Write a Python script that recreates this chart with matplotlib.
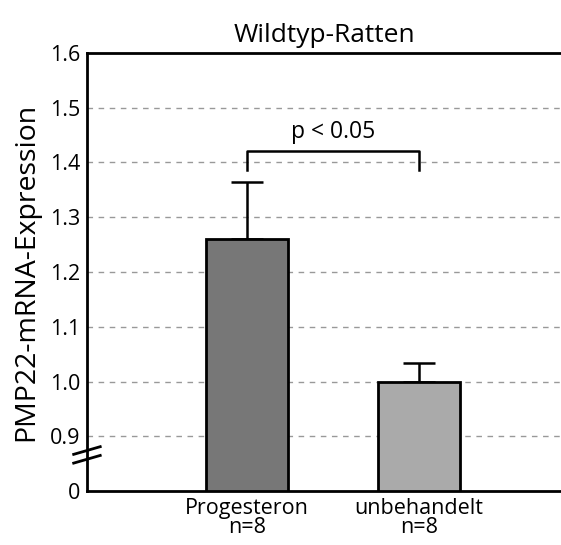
import matplotlib.pyplot as plt

plt.rcParams['font.family'] = ['Open Sans', 'DejaVu Sans']

# data
groups = ['Progesteron\nn=8', 'unbehandelt\nn=8']
means = [1.26, 1.00]
errors = [0.105, 0.033]
bar_colors = ['#777777', '#aaaaaa']
tick_vals = [0.8, 0.9, 1.0, 1.1, 1.2, 1.3, 1.4, 1.5, 1.6]
tick_labels = ['0', '0.9', '1.0', '1.1', '1.2', '1.3', '1.4', '1.5', '1.6']
axis_base = 0.8  # shown as "0" (broken axis)

fig = plt.figure(figsize=(5.61, 5.45), dpi=100)
ax = fig.add_axes([0.155, 0.099, 0.845, 0.804])

x = list(range(len(groups)))
ax.bar(x, [m - axis_base for m in means], bottom=axis_base, width=0.477,
       color=bar_colors, edgecolor='black', linewidth=2, zorder=3)
ax.errorbar(x, means, yerr=[[0] * len(errors), errors], fmt='none',
            ecolor='black', elinewidth=1.8, capsize=11.5, capthick=1.8, zorder=2)

ax.set_xlim(-0.93, 1.826)
ax.set_ylim(0.8, 1.6)
ax.set_yticks(tick_vals)
ax.set_yticklabels(tick_labels, fontsize=15.5)
ax.set_xticks(x)
ax.set_xticklabels(groups, fontsize=15.5, linespacing=0.85)
ax.tick_params(axis='y', length=0, pad=5)
ax.tick_params(axis='x', length=0, pad=5)

for v in tick_vals[1:-1]:
    ax.axhline(v, color='#999999', linestyle=(0, (4, 4)), linewidth=1, zorder=0)

ax.spines['right'].set_visible(False)
for s in ['left', 'top', 'bottom']:
    ax.spines[s].set_linewidth(2)

# axis break marks
trans = ax.get_yaxis_transform()
for y0 in [0.858, 0.874]:
    ax.plot([-0.028, 0.028], [y0 - 0.007, y0 + 0.007], color='black',
            linewidth=2, transform=trans, clip_on=False, zorder=5)

# significance bracket
ax.plot([0, 0, 1, 1], [1.386, 1.42, 1.42, 1.386], color='black', linewidth=1.8)
ax.text(0.5, 1.433, 'p < 0.05', ha='center', va='bottom', fontsize=16.5)

ax.set_ylabel('PMP22-mRNA-Expression', fontsize=20.5, labelpad=7)
ax.set_title('Wildtyp-Ratten', fontsize=19, pad=8)

fig.savefig('out.png', dpi=100)
